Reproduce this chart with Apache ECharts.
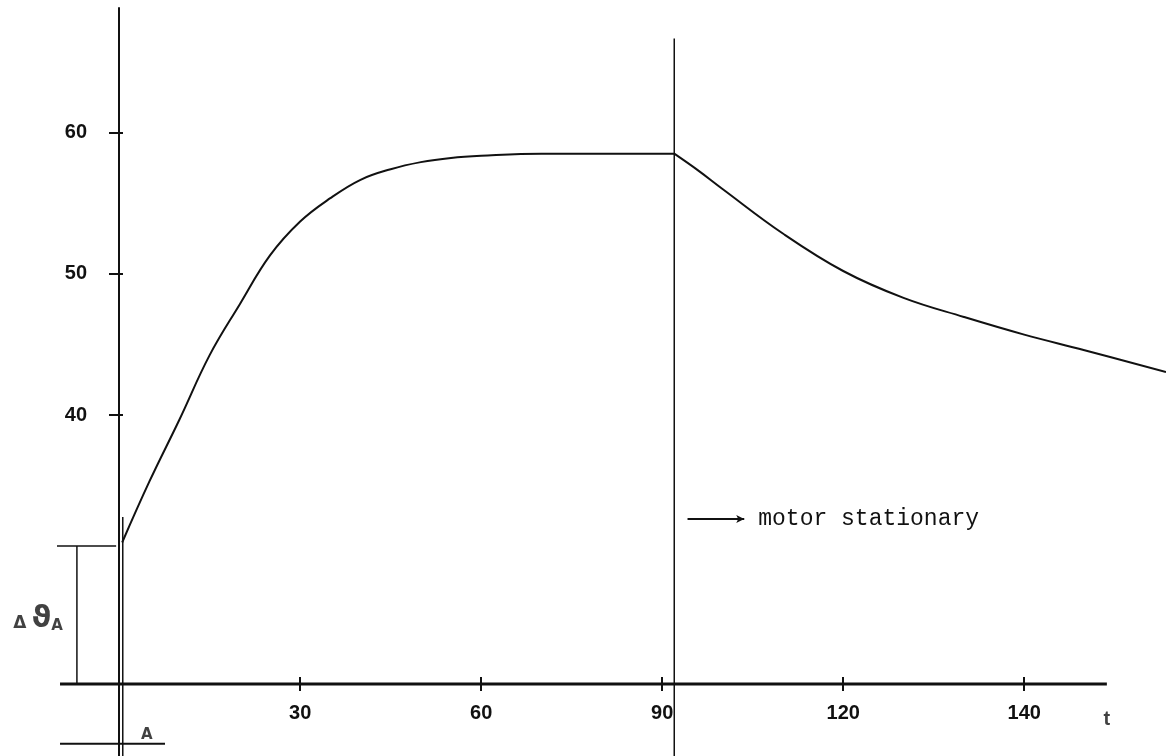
<!DOCTYPE html>
<html>
<head>
<meta charset="utf-8">
<script src="https://cdn.jsdelivr.net/npm/echarts@6/dist/echarts.min.js"></script>
<style>html,body{margin:0;padding:0;background:#fff;}#c{width:1166px;height:756px;}</style>
</head>
<body>
<div id="c"></div>
<script>
// ---- data ----
const xTicks = [30, 60, 90, 120, 150];
const xTickLabels = ['30', '60', '90', '120', '140'];
const yTicks = [40, 50, 60];
// heating while motor runs (min, °C)
const riseTime = [0.5, 5, 10, 15, 20, 25, 30, 35, 40, 45, 50, 55, 60, 70, 80, 92];
const riseTemp = [31.0, 35.3, 39.7, 44.25, 47.85, 51.3, 53.7, 55.35, 56.65, 57.4, 57.9, 58.2, 58.35, 58.5, 58.5, 58.5];
// cooling after motor stops
const fallTime = [92, 96, 100, 110, 120, 130, 140, 150, 160, 173.5];
const fallTemp = [58.5, 57.3, 56.0, 52.85, 50.2, 48.3, 46.95, 45.7, 44.6, 43.05];
const motorStopT = 92.0;
const startTemp = 30.75;
const baseTemp = 21;
const axisEndT = 163.7;
const annotationMotor = 'motor stationary';
const annotationDelta = ['Δ', 'ϑ', 'A'];
const annotationBottom = 'A';
const axisName = 't';

// ---- chart ----
const X_MIN = -10.3, X_MAX = 173.5, Y_MIN = 15.9, Y_MAX = 68.8;
const chart = echarts.init(document.getElementById('c'), null, {renderer: 'canvas'});
const ink = '#111';
const plainLine = (name, data, w) => ({
  type: 'line', name, data, silent: true, symbol: 'none',
  lineStyle: {color: ink, width: w}, z: 3, animation: false
});
const tickFont = {fontFamily: 'Liberation Sans', fontWeight: 'bold', fontSize: 20, color: ink};
const X_OFFSET = -72, Y_OFFSET = -62;

chart.setOption({
  backgroundColor: '#fff',
  animation: false,
  grid: {left: 57, right: 0, top: 8, bottom: 0},
  xAxis: [{
    type: 'value', min: X_MIN, max: X_MAX, position: 'bottom', offset: X_OFFSET,
    splitLine: {show: false},
    axisLine: {show: false, onZero: false},
    axisTick: {show: true, customValues: xTicks, length: 7, lineStyle: {color: ink, width: 2}},
    axisLabel: Object.assign({show: true, customValues: xTicks, margin: 19,
      formatter: v => xTickLabels[xTicks.indexOf(v)]}, tickFont)
  }, {
    type: 'value', min: X_MIN, max: X_MAX, position: 'bottom', offset: X_OFFSET,
    splitLine: {show: false},
    axisLine: {show: false, onZero: false},
    axisTick: {show: true, inside: true, customValues: xTicks, length: 7, lineStyle: {color: ink, width: 2}},
    axisLabel: {show: false}
  }],
  yAxis: [{
    type: 'value', min: Y_MIN, max: Y_MAX, position: 'left', offset: Y_OFFSET,
    splitLine: {show: false},
    axisLine: {show: true, onZero: false, lineStyle: {color: ink, width: 2}},
    axisTick: {show: true, customValues: yTicks, length: 10, lineStyle: {color: ink, width: 2}},
    axisLabel: Object.assign({show: true, customValues: yTicks, margin: 32}, tickFont)
  }, {
    type: 'value', min: Y_MIN, max: Y_MAX, position: 'left', offset: Y_OFFSET,
    splitLine: {show: false},
    axisLine: {show: false, onZero: false},
    axisTick: {show: true, inside: true, customValues: yTicks, length: 4, lineStyle: {color: ink, width: 2}},
    axisLabel: {show: false}
  }],
  series: [
    {
      type: 'line', name: 'heating',
      data: riseTime.map((t, i) => [t, riseTemp[i]]),
      smooth: 0.4, symbol: 'none',
      lineStyle: {color: ink, width: 2}, z: 5
    },
    {
      type: 'line', name: 'cooling',
      data: fallTime.map((t, i) => [t, fallTemp[i]]),
      smooth: 0.4, symbol: 'none',
      lineStyle: {color: ink, width: 2}, z: 5
    },
    plainLine('time axis', [[X_MIN + 0.5, baseTemp], [axisEndT, baseTemp]], 3),
    plainLine('y-axis double', [[0.6, 32.8], [0.6, Y_MIN]], 1.5),
    plainLine('motor stop', [[motorStopT, 66.65], [motorStopT, Y_MIN]], 1.5),
    plainLine('bracket vertical', [[-7.0, startTemp], [-7.0, baseTemp]], 1.5),
    plainLine('bracket top', [[X_MIN, startTemp], [-0.5, startTemp]], 1.5),
    plainLine('lower base', [[X_MIN + 0.5, 16.76], [7.6, 16.76]], 2),
    {
      type: 'line', name: 'motor arrow', silent: true,
      data: [[94.2, 32.66], {value: [103.6, 32.66], symbol: 'arrow', symbolSize: [6, 8], symbolRotate: -90}],
      symbol: 'none', showSymbol: true,
      itemStyle: {color: ink},
      lineStyle: {color: ink, width: 2},
      endLabel: {show: true, formatter: annotationMotor, distance: 14,
        fontFamily: 'Liberation Mono', fontSize: 23, color: ink}
    },
    {
      type: 'scatter', name: 'labels', silent: true,
      symbolSize: 0,
      data: [
        {value: [-7.0, 25.6], label: {show: true, position: 'left', distance: 14,
          formatter: '{d|' + annotationDelta[0] + '}{v|' + annotationDelta[1] + '}{s|' + annotationDelta[2] + '}',
          rich: {
            d: {fontFamily: 'DejaVu Sans', fontWeight: 'bold', fontSize: 17, color: ink, padding: [10, 5, 0, 0]},
            v: {fontFamily: 'DejaVu Sans', fontWeight: 'bold', fontSize: 30, color: ink},
            s: {fontFamily: 'DejaVu Sans', fontWeight: 'bold', fontSize: 15, color: ink, padding: [14, 0, 0, 0]}
          }}},
        {value: [4.6, 17.4], label: {show: true, position: 'inside',
          formatter: annotationBottom, fontFamily: 'DejaVu Sans', fontWeight: 'bold', fontSize: 15, color: ink}},
        {value: [axisEndT, baseTemp], label: {show: true, position: 'bottom', distance: 26,
          formatter: axisName, fontFamily: 'Liberation Sans', fontWeight: 'bold', fontSize: 20, color: ink}}
      ]
    }
  ]
});
</script>
</body>
</html>
